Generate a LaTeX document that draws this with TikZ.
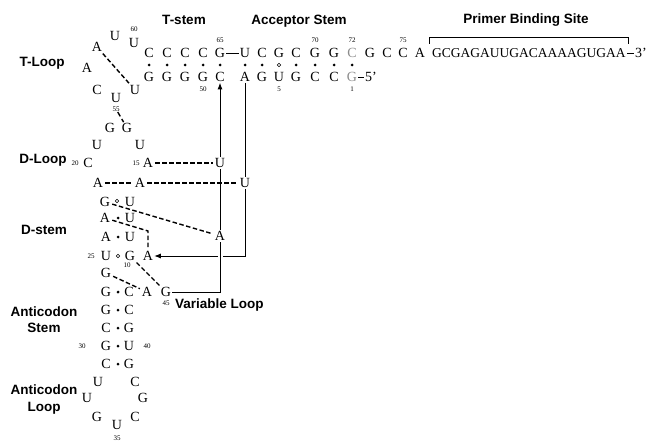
\documentclass[tikz,border=0pt]{standalone}
\usepackage{fontspec}
\setmainfont{Liberation Serif}
\setsansfont{Liberation Sans}
\usetikzlibrary{arrows.meta}
\begin{document}
\begin{tikzpicture}[x=1pt,y=-1pt,
  nt/.style={font=\fontsize{14}{14}\selectfont, inner sep=1pt, text height=9.3pt, text depth=0pt},
  ntg/.style={nt, text=black!45},
  seqtxt/.style={font=\fontsize{13.5}{13.5}\selectfont, inner sep=1pt, text height=9pt, text depth=0pt},
  num/.style={font=\fontsize{7}{7}\selectfont, inner sep=0.5pt, text height=4.7pt, text depth=0pt},
  lab/.style={font=\sffamily\bfseries\fontsize{13.5}{13.5}\selectfont, inner sep=0pt, text height=9.7pt, text depth=0pt},
  sline/.style={line width=0.9pt},
  dline/.style={line width=1.4pt, dash pattern=on 4.5pt off 2.5pt, shorten <=1pt, shorten >=1pt},
  arr/.style={sline, -{Latex[length=6.5pt,width=5pt]}},
  wc/.style={line width=0.6pt},
]
\useasboundingbox (0,0) rectangle (648,441);

% ---------- labels ----------
\node[lab] (lTS) at (184,20) {T-stem};
\node[lab] (lAS) at (299,20) {Acceptor Stem};
\node[lab] (lPB) at (526,19) {Primer Binding Site};
\node[lab] (lTL) at (42,62) {T-Loop};
\node[lab] (lDL) at (43,159) {D-Loop};
\node[lab] (lDS) at (44,230) {D-stem};
\node[lab] (lAC1) at (44,312) {Anticodon};
\node[lab] (lAC2) at (44,328) {Stem};
\node[lab] (lAL1) at (44,390) {Anticodon};
\node[lab] (lAL2) at (44,407) {Loop};
\node[lab, anchor=west] (lVL) at (175,304) {Variable Loop};

% ---------- top strand ----------
\node[nt] (C61) at (149,53) {C};
\node[nt] (C62) at (167,53) {C};
\node[nt] (C63) at (185,53) {C};
\node[nt] (C64) at (203,53) {C};
\node[nt] (G65) at (220,53) {G};
\node[nt] (U66) at (245,53) {U};
\node[nt] (C67) at (262,53) {C};
\node[nt] (G68) at (279,53) {G};
\node[nt] (C69) at (296,53) {C};
\node[nt] (G70) at (315,53) {G};
\node[nt] (G71) at (334,53) {G};
\node[ntg] (C72) at (352,53) {C};
\node[nt] (G73) at (370,53) {G};
\node[nt] (C74) at (387,53) {C};
\node[nt] (C75) at (403,53) {C};
\node[nt] (A76) at (420,53) {A};
\node[seqtxt, anchor=west] (pbs) at (431,53) {GCGAGAUUGACAAAAGUGAA};
\node[nt, anchor=west] (p3) at (634,53) {3'};

% ---------- bottom strand ----------
\node[nt] (G53) at (149,77) {G};
\node[nt] (G52) at (167,77) {G};
\node[nt] (G51) at (185,77) {G};
\node[nt] (G50) at (203,77) {G};
\node[nt] (C49) at (220,77) {C};
\node[nt] (A7) at (245,77) {A};
\node[nt] (G6) at (262,77) {G};
\node[nt] (U5) at (279,77) {U};
\node[nt] (G4) at (296,77) {G};
\node[nt] (C3) at (315,77) {C};
\node[nt] (C2) at (334,77) {C};
\node[ntg] (G1) at (352,77) {G};
\node[nt, anchor=west] (p5) at (364,77) {5'};

% ---------- numbers ----------
\node[num] (n60) at (134,29) {60};
\node[num] (n65) at (220,40) {65};
\node[num] (n70) at (315,40) {70};
\node[num] (n72) at (352,40) {72};
\node[num] (n75) at (403,40) {75};
\node[num] (n50) at (203,89) {50};
\node[num] (n5) at (279,89) {5};
\node[num] (n1) at (352,89) {1};
\node[num] (n55) at (116,109) {55};
\node[num] (n20) at (75,163) {20};
\node[num] (n15) at (136,163) {15};
\node[num] (n25) at (91,256) {25};
\node[num] (n10) at (127,265.5) {10};
\node[num] (n45) at (166,303) {45};
\node[num] (n30) at (82,346) {30};
\node[num] (n40) at (147,346) {40};
\node[num] (n35) at (117,438) {35};

% ---------- T loop ----------
\node[nt] (U54) at (135,90) {U};
\node[nt] (U55) at (116,98) {U};
\node[nt] (C56) at (97,90) {C};
\node[nt] (A57) at (87,68) {A};
\node[nt] (A58) at (97,47) {A};
\node[nt] (U59) at (115,36) {U};
\node[nt] (U60) at (134,43) {U};

% ---------- D loop ----------
\node[nt] (dG1) at (127,128) {G};
\node[nt] (dG2) at (110,128) {G};
\node[nt] (U16) at (140,145) {U};
\node[nt] (dU2) at (97,145) {U};
\node[nt] (C20) at (88,163) {C};
\node[nt] (A15) at (148,163) {A};
\node[nt] (A21) at (98,183) {A};
\node[nt] (A14) at (140,183) {A};
\node[nt] (U8) at (245,183) {U};
\node[nt] (U48) at (220,163) {U};
\node[nt] (A46) at (220,236) {A};

% ---------- D stem ----------
\node[nt] (G22) at (105,202) {G};
\node[nt] (U13) at (130,202) {U};
\node[nt] (A23) at (105,218) {A};
\node[nt] (U12) at (130,218) {U};
\node[nt] (A24) at (106,237) {A};
\node[nt] (U11) at (130,237) {U};
\node[nt] (U25) at (106,256) {U};
\node[nt] (G10) at (130,256) {G};
\node[nt] (A9) at (148,256) {A};
\node[nt] (G26) at (106,273) {G};

% ---------- anticodon stem & loop ----------
\node[nt] (G27) at (106,292) {G};
\node[nt] (C43) at (129,292) {C};
\node[nt] (A44) at (147,292) {A};
\node[nt] (G45) at (166,292) {G};
\node[nt] (G28) at (106,310) {G};
\node[nt] (C42) at (129,310) {C};
\node[nt] (C29) at (106,328) {C};
\node[nt] (G41) at (129,328) {G};
\node[nt] (G30) at (106,346) {G};
\node[nt] (U40) at (129,346) {U};
\node[nt] (C31) at (106,364) {C};
\node[nt] (G39) at (129,364) {G};
\node[nt] (U32) at (98,382) {U};
\node[nt] (U33) at (87,398) {U};
\node[nt] (G34) at (97,417) {G};
\node[nt] (U35) at (117,425) {U};
\node[nt] (C36) at (135,417) {C};
\node[nt] (G37) at (143,398) {G};
\node[nt] (C38) at (135,382) {C};

% ---------- base-pair symbols ----------
\foreach \x in {149,167,185,203,220,245,262,296,315,334,352}
  \fill (\x,65) circle (1.5pt);
\draw[wc] (279,65) circle (1.8pt);
\draw[wc] (117,201) circle (1.8pt);
\fill (118,218) circle (1.5pt);
\fill (118,237) circle (1.5pt);
\draw[wc] (118,256) circle (1.8pt);
\foreach \y in {292,310,328,346,364}
  \fill (118,\y) circle (1.5pt);

% ---------- solid connectors ----------
\draw[sline] (G65) -- (U66);
\draw[sline] (G1) -- (p5);
\draw[sline] (pbs) -- (p3);
\coordinate (bL) at (429,44);
\coordinate (bR) at (628,44);
\draw[sline] (bL) -- ++(0,-7) -| (bR);

\draw[sline] (A7) -- (U8);
\draw[arr] (U8) |- (A9);
\draw[sline, preaction={draw=white, line width=5pt}] (G45) -| (A46);
\draw[sline] (A46) -- (U48);
\draw[arr] (U48) -- (C49);

% ---------- tertiary interactions (dashed) ----------
\draw[dline] (A58) -- (U54);
\draw[line width=1.4pt, dash pattern=on 5pt off 3pt] (n55) -- (dG1);
\draw[dline] (A15) -- (U48);
\draw[dline] (A21) -- (A14);
\draw[dline] (A14) -- (U8);
\draw[dline] (G22) -- (A46);
\coordinate (cA) at (148,231);
\draw[dline] (A23) -- (cA) -- (A9);
\draw[dline] (G10) -- (G45);
\draw[dline] (G26) -- (A44);
\end{tikzpicture}
\end{document}
